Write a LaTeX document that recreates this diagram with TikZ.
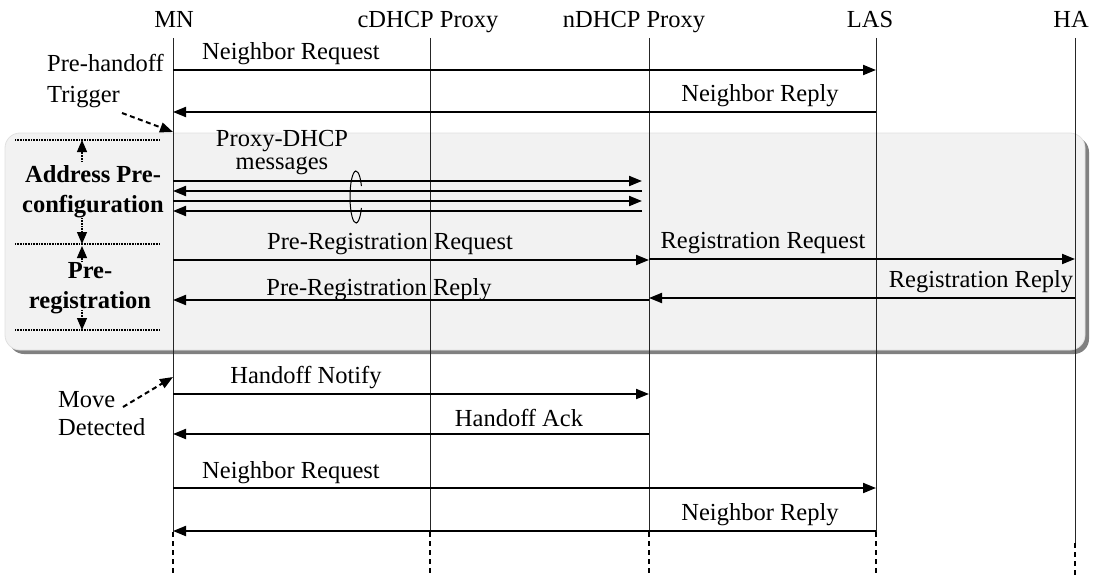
\documentclass[tikz,border=0pt]{standalone}
\usepackage{fontspec}
\setmainfont{Liberation Serif}
\usetikzlibrary{arrows.meta}
\begin{document}
\begin{tikzpicture}[x=1pt,y=-1pt,
  lbl/.style={font=\fontsize{24.5}{30}\selectfont, inner sep=0pt},
  blbl/.style={font=\fontsize{24.5}{30}\selectfont\bfseries, inner sep=0pt, align=center},
  hdr/.style={font=\fontsize{24.5}{30}\selectfont, inner sep=0pt, anchor=base},
  msg/.style={line width=2pt, -{Triangle[length=13pt,width=10pt]}},
  life/.style={line width=1pt, draw=black!85},
  lifedash/.style={line width=2pt, dash pattern=on 5pt off 4pt},
  trig/.style={line width=2pt, dash pattern=on 5pt off 3.5pt, -{Triangle[length=13pt,width=10pt]}},
  dotline/.style={line width=1.6pt, dash pattern=on 1pt off 0.6pt},
  dotarrow/.style={line width=1.3pt, dash pattern=on 1pt off 0.6pt, -{Triangle[length=12pt,width=10pt]}},
]
\useasboundingbox (0,0) rectangle (1095,578);

% shaded background box
\fill[black!50, rounded corners=15pt] (9,137) rectangle (1089,354);
\filldraw[fill=black!5, draw=black!12, line width=0.8pt, rounded corners=15pt] (5,133) rectangle (1085,350);

% headers
\node[hdr] (hMN)  at (174,28) {MN};
\node[hdr] (hcD)  at (428,28) {cDHCP Proxy};
\node[hdr] (hnD)  at (634,28) {nDHCP Proxy};
\node[hdr] (hLAS) at (870,28) {LAS};
\node[hdr] (hHA)  at (1071,28) {HA};

\coordinate (MN)  at (173,38);
\coordinate (cD)  at (430,38);
\coordinate (nD)  at (649,38);
\coordinate (LAS) at (876,38);
\coordinate (HA)  at (1075,38);

% lifelines
\foreach \p in {MN,cD,nD,LAS}{
  \draw[life] (\p) -- (\p |- 0,532);
  \draw[lifedash] (\p |- 0,532) -- (\p |- 0,575);
}
\draw[life] (HA) -- (HA |- 0,543);
\draw[lifedash] (HA |- 0,543) -- (HA |- 0,575);

% Neighbor request / reply (top)
\draw[msg] (MN |- 0,70) -- (LAS |- 0,70);
\node[lbl] (l1) at (291,54) {Neighbor Request};
\draw[msg] (LAS |- 0,112) -- (MN |- 0,112);
\node[lbl] (l2) at (760,96) {Neighbor Reply};

% Pre-handoff trigger
\node[lbl, anchor=west, align=left, font=\fontsize{24.5}{31}\selectfont] (trg) at (47,81) {Pre-handoff\\Trigger};
\coordinate (trgA) at (122,113);
\draw[trig] (trgA) -- (MN |- 0,132);

% Proxy-DHCP messages
\node[lbl, align=center, font=\fontsize{24.5}{23}\selectfont] (pdm) at (282,153) {Proxy-DHCP\\messages};
\coordinate (nDe) at ([xshift=-7pt]nD);
\draw[msg]  (MN |- 0,181) -- (nDe |- 0,181);
\draw[msg]  (nDe |- 0,191) -- (MN |- 0,191);
\draw[msg]  (MN |- 0,201) -- (nDe |- 0,201);
\draw[msg]  (nDe |- 0,211) -- (MN |- 0,211);
\draw[line width=1pt] (356,197) ++(25:6pt and 26pt) arc[start angle=25, end angle=335, x radius=6pt, y radius=26pt];

% Pre-registration
\draw[msg] (MN |- 0,260) -- (nD |- 0,260);
\node[lbl] (l3) at (390,244) {Pre-Registration Request};
\draw[msg] (nD |- 0,259) -- (HA |- 0,259);
\node[lbl] (l4) at (763,243) {Registration Request};
\draw[msg] (HA |- 0,298) -- (nD |- 0,298);
\node[lbl] (l5) at (981,282) {Registration Reply};
\draw[msg] (nD |- 0,300) -- (MN |- 0,300);
\node[lbl] (l6) at (379,290) {Pre-Registration Reply};

% left bracket
\draw[dotline] (15,140) -- (160,140);
\draw[dotline] (15,244) -- (160,244);
\draw[dotline] (15,330) -- (160,330);
\draw[dotarrow] (82,162) -- (82,140);
\draw[dotarrow] (82,218) -- (82,244);
\draw[dotarrow] (82,262) -- (82,246);
\draw[dotarrow] (82,310) -- (82,330);
\node[blbl] (apc) at (93,192) {Address Pre-\\configuration};
\node[blbl] (prr) at (90,288) {Pre-\\registration};

% Handoff
\draw[msg] (MN |- 0,394) -- (nD |- 0,394);
\node[lbl] (l7) at (306,378) {Handoff Notify};
\draw[msg] (nD |- 0,434) -- (MN |- 0,434);
\node[lbl] (l8) at (519,418) {Handoff Ack};

\node[lbl, anchor=west, align=left, font=\fontsize{24.5}{28}\selectfont] (mvd) at (58,414) {Move\\Detected};
\coordinate (mvA) at (123,407);
\draw[trig] (mvA) -- (MN |- 0,377);

% Neighbor request / reply (bottom)
\draw[msg] (MN |- 0,488) -- (LAS |- 0,488);
\node[lbl] (l9) at (291,473) {Neighbor Request};
\draw[msg] (LAS |- 0,531) -- (MN |- 0,531);
\node[lbl] (l10) at (760,515) {Neighbor Reply};
\end{tikzpicture}
\end{document}
